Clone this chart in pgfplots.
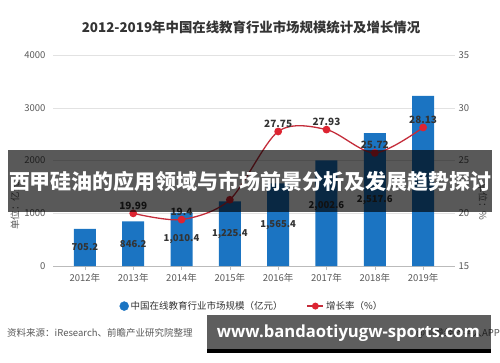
\documentclass[border=0pt]{standalone}
\usepackage{fontspec}
\setmainfont{Noto Sans CJK SC}
\newfontfamily\urlfont{Open Sans}
\usepackage{graphicx}
\usepackage{pgfplots}
\usepackage{pgfplotstable}
\pgfplotsset{compat=1.18}
\definecolor{barblue}{HTML}{1B74C2}
\definecolor{linered}{HTML}{C42D3B}
\definecolor{markred}{HTML}{DD2431}
\definecolor{gridgray}{HTML}{E2E2E2}
\definecolor{basegray}{HTML}{BBBBBB}
\definecolor{txtgray}{HTML}{595959}
\definecolor{darktxt}{HTML}{333333}

\pgfplotstableread{
x v
0 705.2
1 846.2
2 1010.4
3 1225.4
4 1565.4
5 2002.6
6 2517.6
7 3225.8
}\bars

\pgfplotstableread{
x ly lab
0 352 705.2
1 423 846.2
2 505 1,010.4
3 612 1,225.4
4 783 1,565.4
5 1135 2,002.6
6 1250 2,517.6
}\barlabels

\pgfplotstableread{
x g
1 19.99
2 19.4
3 21.28
4 27.75
5 27.93
6 25.72
7 28.13
}\growth

\pgfplotstableread{
x g lab
1 19.99 19.99
2 19.4 19.4
4 27.75 27.75
5 27.93 27.93
6 25.72 25.72
7 28.13 28.13
}\growthlabels

\begin{document}
\begin{tikzpicture}[x=1pt,y=1pt]
\useasboundingbox (0,0) rectangle (500,362);
\begin{axis}[
  at={(53pt,96pt)}, anchor=south west,
  scale only axis, width=402pt, height=211pt,
  xmin=-0.66, xmax=7.66, ymin=0, ymax=4000,
  axis x line*=bottom, axis y line*=left,
  x axis line style={draw=basegray,-},
  y axis line style={draw=none},
  ytick={0,1000,...,4000},
  ymajorgrids, grid style={gridgray},
  ytick style={draw=none},
  xtick={0,...,7},
  xticklabels={2012年,2013年,2014年,2015年,2016年,2017年,2018年,2019年},
  xtick style={draw=basegray},
  major tick length=4pt, tick align=outside,
  /pgf/number format/assume math mode=true,
  /pgf/number format/1000 sep={},
  tick label style={font=\fontsize{9.5}{10}\selectfont, text=txtgray},
  clip=false,
]
\addplot[ybar, bar width=22pt, fill=barblue, draw=none] table[x=x,y=v]{\bars};
\addplot[draw=none, mark=none, nodes near coords, point meta=explicit symbolic,
  every node near coord/.append style={anchor=center, font=\bfseries\fontsize{9.5}{10}\selectfont, text=darktxt}]
  table[x=x,y=ly,meta=lab]{\barlabels};
\end{axis}
\begin{axis}[
  at={(53pt,96pt)}, anchor=south west,
  scale only axis, width=402pt, height=211pt,
  xmin=-0.66, xmax=7.66, ymin=15, ymax=35,
  axis y line*=right, axis x line=none,
  y axis line style={draw=none},
  ytick={15,20,...,35}, ytick style={draw=none},
  xtick=\empty,
  /pgf/number format/assume math mode=true,
  tick label style={font=\fontsize{9.5}{10}\selectfont, text=txtgray},
  clip=false,
  legend columns=2,
  legend style={at={(0.495,-0.19)}, anchor=center, draw=none, fill=none,
    font=\fontsize{9.5}{10}\selectfont, text=darktxt,
    /tikz/every even column/.append style={column sep=22pt}},
  legend cell align=left,
]
\addlegendimage{only marks, mark=*, mark size=4.5pt, color=barblue}
\addlegendentry{中国在线教育行业市场规模（亿元）}
\addplot[linered, line width=1.3pt, smooth, mark=*, mark size=3.2pt,
  mark options={fill=markred, draw=markred},
  legend image code/.code={
    \draw[linered, line width=1.3pt] (0pt,0pt) -- (16pt,0pt);
    \fill[markred] (8pt,0pt) circle (2.8pt);}]
  table[x=x,y=g]{\growth};
\addlegendentry{增长率（\%）}
\addplot[draw=none, mark=none, nodes near coords, point meta=explicit symbolic,
  every node near coord/.append style={anchor=south, yshift=3pt, inner sep=1pt,
     font=\bfseries\fontsize{10}{11}\selectfont, text=darktxt}]
  table[x=x,y=g,meta=lab]{\growthlabels};
\end{axis}
% titles and notes
\node[font=\bfseries\fontsize{13.4}{14}\selectfont, text=darktxt] at (251,335) {2012-2019年中国在线教育行业市场规模统计及增长情况};
\node[rotate=90, font=\fontsize{9.5}{10}\selectfont, text=txtgray] at (15,156) {单位：亿元};
\node[rotate=-90, font=\fontsize{9.5}{10}\selectfont, text=txtgray] at (483,160) {单位：\%};
\node[anchor=west, font=\fontsize{9.5}{10}\selectfont, text=txtgray, inner sep=0pt] at (7,29) {资料来源：iResearch、前瞻产业研究院整理};
\node[anchor=east, font=\fontsize{9.5}{10}\selectfont, text=txtgray, inner sep=0pt] at (500,29) {@前瞻经济学人APP};
% overlay banner
\fill[black, opacity=0.65] (8,150) rectangle (492,212);
\node[text=white, font=\bfseries\fontsize{21}{22}\selectfont, inner sep=0pt] at (250,181) {\resizebox{482pt}{!}{西甲硅油的应用领域与市场前景分析及发展趋势探讨}};
% overlay url box
\fill[black, opacity=0.63] (207,13) rectangle (491,47);
\fill[black] (207,9) rectangle (491,13);
\node[text=white, inner sep=0pt] at (348.5,29) {\resizebox{263pt}{!}{\urlfont\bfseries www.bandaotiyugw-sports.com}};
\end{tikzpicture}
\end{document}
